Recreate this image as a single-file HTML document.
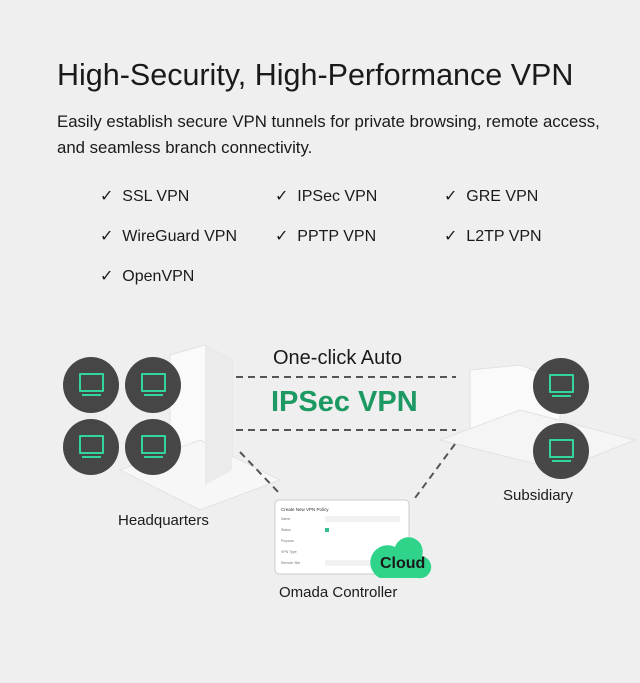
<!DOCTYPE html>
<html><head><style>
body{margin:0;width:640px;height:683px;background:#efefef;font-family:"Liberation Sans",sans-serif;color:#1a1a1a;position:relative;overflow:hidden}
.a{position:absolute;white-space:nowrap}
.c{position:absolute;width:56px;height:56px;border-radius:50%;background:rgba(55,55,55,.92)}
.c:before{content:"";position:absolute;left:16px;top:16px;width:21px;height:15px;border:2px solid #33d69a;border-radius:1px}
.c:after{content:"";position:absolute;left:19px;top:37px;width:19px;height:2px;background:#33d69a}
.k{font-size:16px}
</style></head><body>
<div class="a" style="left:57px;top:58px;font-size:30.5px">High-Security, High-Performance VPN</div>
<div class="a" style="left:57px;top:109px;font-size:16.8px;line-height:26px">Easily establish secure VPN tunnels for private browsing, remote access,<br>and seamless branch connectivity.</div>
<div class="a k" style="left:100px;top:186px">✓&nbsp;&nbsp;SSL VPN</div>
<div class="a k" style="left:275px;top:186px">✓&nbsp;&nbsp;IPSec VPN</div>
<div class="a k" style="left:444px;top:186px">✓&nbsp;&nbsp;GRE VPN</div>
<div class="a k" style="left:100px;top:226px">✓&nbsp;&nbsp;WireGuard VPN</div>
<div class="a k" style="left:275px;top:226px">✓&nbsp;&nbsp;PPTP VPN</div>
<div class="a k" style="left:444px;top:226px">✓&nbsp;&nbsp;L2TP VPN</div>
<div class="a k" style="left:100px;top:266px">✓&nbsp;&nbsp;OpenVPN</div>
<svg class="a" style="left:0;top:0" width="640" height="683">
<polygon points="170,355 205,345 232,360 232,470 200,490 170,470" fill="#fafafa" stroke="#e2e2e2"/>
<polygon points="120,470 200,440 280,480 200,510" fill="#f7f7f7" stroke="#e2e2e2"/>
<polygon points="205,345 232,360 232,470 205,485" fill="#ebebeb"/>
<polygon points="470,370 520,365 560,380 560,440 510,455 470,440" fill="#fafafa" stroke="#e2e2e2"/>
<polygon points="440,440 520,410 635,440 560,470" fill="#f5f5f5" stroke="#e2e2e2"/>
<g stroke="#555" stroke-width="2" stroke-dasharray="7,5">
<line x1="236" y1="377" x2="456" y2="377"/>
<line x1="236" y1="430" x2="456" y2="430"/>
<line x1="240" y1="452" x2="281" y2="495"/>
<line x1="455" y1="444" x2="415" y2="498"/>
</g>
<rect x="275" y="500" width="134" height="74" rx="4" fill="#fff" stroke="#ccc"/>
<text x="281" y="511" font-size="4.5" fill="#333">Create New VPN Policy</text>
<g font-size="3.5" fill="#777"><text x="281" y="520">Name</text><text x="281" y="531">Status</text><text x="281" y="542">Purpose</text><text x="281" y="553">VPN Type</text><text x="281" y="564">Remote Site</text></g>
<rect x="325" y="516" width="75" height="6" fill="#f2f2f2"/>
<rect x="325" y="560" width="50" height="6" fill="#f2f2f2"/>
<rect x="325" y="528" width="4" height="4" fill="#33c08a"/>
<path d="M380,578 h38 a11,11 0 0 0 4,-22 a14,14 0 0 0 -27,-9 a12,12 0 0 0 -15,31z" fill="#2fd38a"/>
</svg>
<div class="c" style="left:63px;top:357px"></div>
<div class="c" style="left:125px;top:357px"></div>
<div class="c" style="left:63px;top:419px"></div>
<div class="c" style="left:125px;top:419px"></div>
<div class="c" style="left:533px;top:358px"></div>
<div class="c" style="left:533px;top:423px"></div>
<div class="a" style="left:273px;top:347px;font-size:20px">One-click Auto</div>
<div class="a" style="left:271px;top:386px;font-size:29px;font-weight:bold;color:#1d9a63">IPSec VPN</div>
<div class="a" style="left:380px;top:555px;font-size:16px;font-weight:bold;color:#1a1a1a">Cloud</div>
<div class="a" style="left:118px;top:512px;font-size:15px">Headquarters</div>
<div class="a" style="left:503px;top:487px;font-size:15px">Subsidiary</div>
<div class="a" style="left:279px;top:584px;font-size:15px">Omada Controller</div>
</body></html>
